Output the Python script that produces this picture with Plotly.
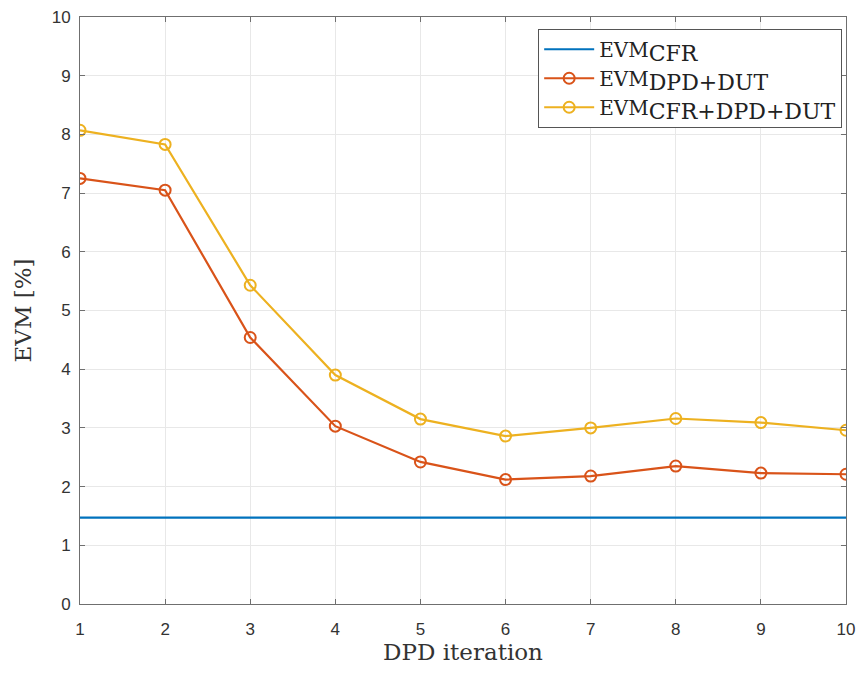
import plotly.graph_objects as go

iterations = [1, 2, 3, 4, 5, 6, 7, 8, 9, 10]
evm_cfr = [1.47] * 10
evm_dpd_dut = [7.25, 7.05, 4.54, 3.03, 2.42, 2.12, 2.18, 2.35, 2.23, 2.21]
evm_cfr_dpd_dut = [8.07, 7.83, 5.43, 3.90, 3.15, 2.86, 3.00, 3.16, 3.09, 2.96]
y_ticks = list(range(0, 11))

blue = "#0072BD"
orange = "#D95319"
yellow = "#EDB120"


def sub_label(sub):
    return "EVM<sub><span style='font-size:22px'>" + sub + "</span></sub>"


fig = go.Figure()
fig.add_trace(go.Scatter(x=iterations, y=evm_cfr, mode="lines",
                         line=dict(color=blue, width=2.2), name=sub_label("CFR")))
fig.add_trace(go.Scatter(x=iterations, y=evm_dpd_dut, mode="lines+markers",
                         line=dict(color=orange, width=2.2),
                         marker=dict(symbol="circle-open", size=11, color=orange, line=dict(width=2)),
                         name=sub_label("DPD+DUT")))
fig.add_trace(go.Scatter(x=iterations, y=evm_cfr_dpd_dut, mode="lines+markers",
                         line=dict(color=yellow, width=2.2),
                         marker=dict(symbol="circle-open", size=11, color=yellow, line=dict(width=2)),
                         name=sub_label("CFR+DPD+DUT")))

axis_common = dict(showline=True, linecolor="#6f6f6f", linewidth=1, mirror="ticks",
                   ticks="inside", ticklen=5, tickcolor="#6f6f6f",
                   showgrid=True, gridcolor="#e8e8e8", gridwidth=1, zeroline=False,
                   ticklabeloverflow="allow",
                   tickfont=dict(family="Liberation Sans, Arial", size=17, color="#333333"))

fig.update_xaxes(range=[1, 10], tickvals=iterations, ticklabelstandoff=10, **axis_common,
                 title=dict(text="DPD iteration", font=dict(family="DejaVu Serif", size=23, color="#333"),
                            standoff=5))
fig.update_yaxes(range=[0, 10], tickvals=y_ticks, ticklabelstandoff=5, **axis_common,
                 title=dict(text="EVM [%]", font=dict(family="DejaVu Serif", size=23, color="#333"),
                            standoff=13))

fig.update_layout(
    width=850, height=657,
    margin=dict(l=72, r=12, t=9, b=61, autoexpand=False),
    plot_bgcolor="white", paper_bgcolor="white",
    showlegend=True,
    legend=dict(x=0.995, y=0.98, xanchor="right", yanchor="top",
                bgcolor="white", bordercolor="#555", borderwidth=1,
                font=dict(family="DejaVu Serif", size=20, color="#222"),
                itemwidth=50, tracegroupgap=0),
)

fig.write_html("out.html")
